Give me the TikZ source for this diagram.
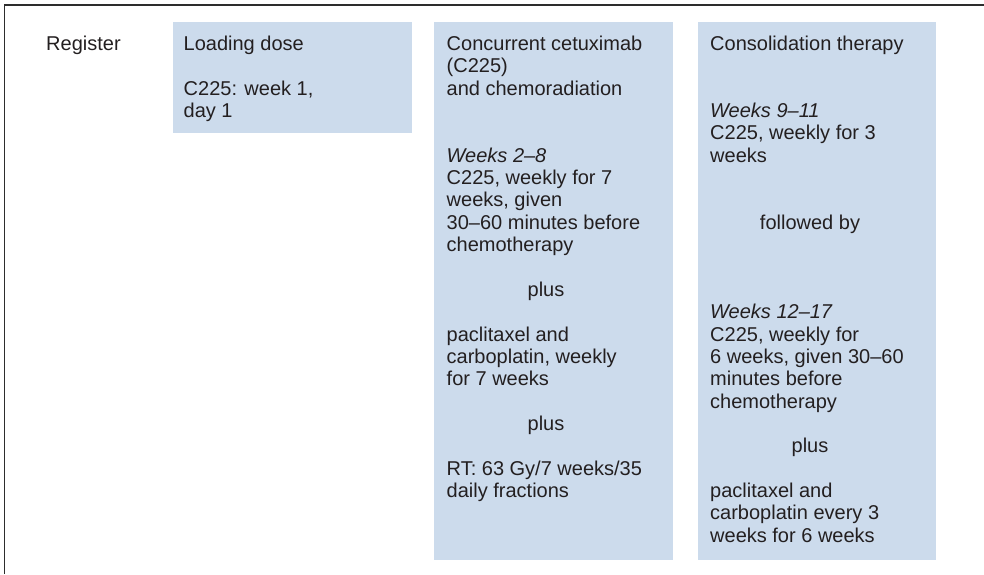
\documentclass[tikz,border=0pt]{standalone}
\usepackage{fontspec}
\setmainfont{Liberation Sans}
\definecolor{boxfill}{RGB}{204,219,236}
\definecolor{txtc}{RGB}{35,31,32}
\definecolor{framec}{RGB}{45,45,45}
\newcommand{\fsz}{\fontsize{20}{22.35}\selectfont}
\tikzset{
  panel/.style={fill=boxfill, draw=none, inner sep=0pt, anchor=north west},
  tx/.style={anchor=base west, inner sep=0pt, text=txtc, font=\fsz},
  tc/.style={anchor=base, inner sep=0pt, text=txtc, font=\fsz},
  frameline/.style={draw=framec, line width=1.5pt}
}
\begin{document}
\begin{tikzpicture}[x=1pt,y=-1pt]
\useasboundingbox (0,0) rectangle (984,574);
% frame
\coordinate (fbl) at (4.3,574);
\coordinate (ftl) at (4.3,5.2);
\coordinate (ftr) at (984,5.2);
\draw[frameline] (fbl) -- (ftl) -- (ftr);
% panels
\node[panel, minimum width=239pt, minimum height=111.5pt] (load) at (173,21.5) {};
\node[panel, minimum width=238.7pt, minimum height=538.5pt] (conc) at (434,21.5) {};
\node[panel, minimum width=238.4pt, minimum height=538.5pt] (cons) at (697.3,21.5) {};
% register
\node[tx] (reg) at (46,50.5) {Register};
% loading dose
\node[tx] (l0) at (183.5,50.5) {Loading dose};
\node[tx] (l2) at (183.5,95.2) {C225: week 1,};
\node[tx] (l3) at (183.5,117.55) {day 1};
% concurrent
\node[tx] (c0) at (446.5,50.5) {Concurrent cetuximab};
\node[tx] (c1) at (446.5,72.85) {(C225)};
\node[tx] (c2) at (446.5,95.2) {and chemoradiation};
\node[tx] (c5) at (446.5,162.25) {\itshape Weeks 2\textendash8};
\node[tx] (c6) at (446.5,184.6) {C225, weekly for 7};
\node[tx] (c7) at (446.5,206.95) {weeks, given};
\node[tx] (c8) at (446.5,229.3) {30\textendash60 minutes before};
\node[tx] (c9) at (446.5,251.65) {chemotherapy};
\node[tc] (c11) at (546,296.35) {plus};
\node[tx] (c13) at (446.5,341.05) {paclitaxel and};
\node[tx] (c14) at (446.5,363.4) {carboplatin, weekly};
\node[tx] (c15) at (446.5,385.75) {for 7 weeks};
\node[tc] (c17) at (546,430.45) {plus};
\node[tx] (c19) at (446.5,475.15) {RT: 63 Gy/7 weeks/35};
\node[tx] (c20) at (446.5,497.5) {daily fractions};
% consolidation
\node[tx] (s0) at (710,50.5) {Consolidation therapy};
\node[tx] (s3) at (710,117.55) {\itshape Weeks 9\textendash11};
\node[tx] (s4) at (710,139.9) {C225, weekly for 3};
\node[tx] (s5) at (710,162.25) {weeks};
\node[tc] (s8) at (810,229.3) {followed by};
\node[tx] (s12) at (710,318.7) {\itshape Weeks 12\textendash17};
\node[tx] (s13) at (710,341.05) {C225, weekly for};
\node[tx] (s14) at (710,363.4) {6 weeks, given 30\textendash60};
\node[tx] (s15) at (710,385.75) {minutes before};
\node[tx] (s16) at (710,408.1) {chemotherapy};
\node[tc] (s18) at (810,452.8) {plus};
\node[tx] (s20) at (710,497.5) {paclitaxel and};
\node[tx] (s21) at (710,519.85) {carboplatin every 3};
\node[tx] (s22) at (710,542.2) {weeks for 6 weeks};
\end{tikzpicture}
\end{document}
